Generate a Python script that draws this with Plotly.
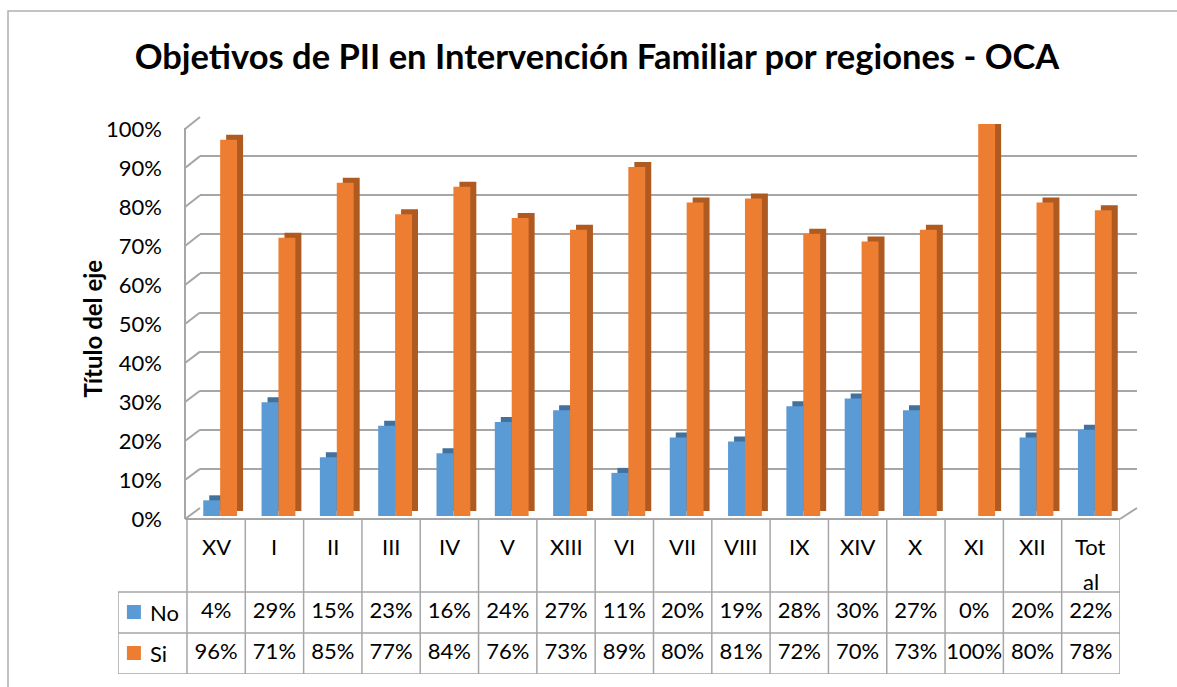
import plotly.graph_objects as go

W, H = 1177, 687

regions = ["XV", "I", "II", "III", "IV", "V", "XIII", "VI", "VII", "VIII",
           "IX", "XIV", "X", "XI", "XII", "Total"]
no_pct = [4, 29, 15, 23, 16, 24, 27, 11, 20, 19, 28, 30, 27, 0, 20, 22]
si_pct = [96, 71, 85, 77, 84, 76, 73, 89, 80, 81, 72, 70, 73, 100, 80, 78]
series_names = ["No", "Si"]
y_ticks = [0, 10, 20, 30, 40, 50, 60, 70, 80, 90, 100]

title_text = "Objetivos de PII en Intervención Familiar por regiones - OCA"
y_title = "Título del eje"

BLUE, ORANGE = "#5b9bd5", "#ed7d31"
BLUE_D, ORANGE_D = "#41719c", "#ae5a21"
GRID = "#a6a6a6"
FONT = "Lato"


def px(x):
    return x / W


def py(y):
    return 1 - y / H


idx = list(range(len(regions)))
no_v = [v / 100 for v in no_pct]
si_v = [v / 100 for v in si_pct]

fig = go.Figure()

# back-wall grid subplot (x / y)
fig.add_trace(go.Scatter(x=[], y=[], xaxis="x", yaxis="y", showlegend=False))

# bars subplot (x2 / y2)
bw = 0.29
dx = 6 / 58.31
dy = 5 / 392
fig.add_trace(go.Bar(x=idx, y=no_v, base=dy, width=bw, offset=-bw + dx,
                     marker=dict(color=BLUE_D, line=dict(width=0)),
                     xaxis="x2", yaxis="y2", showlegend=False, hoverinfo="skip"))
fig.add_trace(go.Bar(x=idx, y=si_v, base=dy, width=bw, offset=dx,
                     marker=dict(color=ORANGE_D, line=dict(width=0)),
                     xaxis="x2", yaxis="y2", showlegend=False, hoverinfo="skip"))
fig.add_trace(go.Bar(x=idx, y=no_v, width=bw, offset=-bw, name=series_names[0],
                     marker=dict(color=BLUE, line=dict(width=0)),
                     xaxis="x2", yaxis="y2", showlegend=False))
fig.add_trace(go.Bar(x=idx, y=si_v, width=bw, offset=0, name=series_names[1],
                     marker=dict(color=ORANGE, line=dict(width=0)),
                     xaxis="x2", yaxis="y2", showlegend=False))

# tick-label axis (x2 / y3)
fig.add_trace(go.Scatter(x=[], y=[], xaxis="x2", yaxis="y3", showlegend=False))

# data table subplot (x4 / y4)
ROW_CAT, ROW_NO, ROW_SI = 546, 612, 653
TXT = dict(family=FONT, size=22, color="black")
fig.add_trace(go.Scatter(x=[-1.41, -1.41], y=[ROW_NO, ROW_SI], mode="markers",
                         marker=dict(symbol="square", size=14, color=[BLUE, ORANGE]),
                         xaxis="x4", yaxis="y4", showlegend=False, hoverinfo="skip"))
fig.add_trace(go.Scatter(x=idx, y=[ROW_NO] * len(idx), mode="text",
                         text=[f"{v}%" for v in no_pct], textfont=TXT,
                         xaxis="x4", yaxis="y4", showlegend=False, hoverinfo="skip"))
fig.add_trace(go.Scatter(x=idx, y=[ROW_SI] * len(idx), mode="text",
                         text=[f"{v}%" for v in si_pct], textfont=TXT,
                         xaxis="x4", yaxis="y4", showlegend=False, hoverinfo="skip"))

annotations = []
for i, lab in enumerate(regions):
    parts = [lab] if len(lab) <= 4 else [lab[:3], lab[3:]]
    for k, p in enumerate(parts):
        annotations.append(dict(x=i, y=ROW_CAT + k * 35, xref="x4", yref="y4",
                                text=p, showarrow=False, font=TXT))
for name, yy in zip(series_names, [ROW_NO, ROW_SI]):
    annotations.append(dict(x=-1.17, y=yy, xref="x4", yref="y4", text=name,
                            xanchor="left", showarrow=False, font=TXT))
annotations.append(dict(x=px(75), y=py(329), xref="paper", yref="paper",
                        text=f"<b>{y_title}</b>", textangle=-90, showarrow=False,
                        font=dict(family=FONT, size=24, color="black")))

shapes = []
line_style = dict(color=GRID, width=1.5)
# outer chart border
shapes.append(dict(type="rect", xref="paper", yref="paper", x0=px(8), x1=1.02,
                   y0=-0.02, y1=py(11), line=dict(color="#b0b0b0", width=1.5)))
# left wall
for t in y_ticks:
    shapes.append(dict(type="line", xref="paper", yref="paper",
                       x0=px(185), y0=py(519 - t * 3.9), x1=px(200), y1=py(508 - t * 3.91),
                       line=dict(color=GRID, width=2)))
shapes.append(dict(type="line", xref="paper", yref="paper", x0=px(185), y0=py(128),
                   x1=px(185), y1=py(519), line=dict(color=GRID, width=2)))
# floor front edge and right diagonal
shapes.append(dict(type="line", xref="paper", yref="paper", x0=px(185), y0=py(519),
                   x1=px(1120), y1=py(519), line=dict(color=GRID, width=2)))
shapes.append(dict(type="line", xref="paper", yref="paper", x0=px(1120), y0=py(519),
                   x1=px(1137), y1=py(508), line=dict(color=GRID, width=2)))
# table lines
n = len(regions)
for i in range(n + 1):
    shapes.append(dict(type="line", xref="x4", yref="y4", x0=i - 0.5, x1=i - 0.5,
                       y0=519, y1=674, line=line_style))
shapes.append(dict(type="line", xref="x4", yref="y4", x0=-1.683, x1=-1.683,
                   y0=592, y1=674, line=line_style))
for yy in [592, 633, 674]:
    shapes.append(dict(type="line", xref="x4", yref="y4", x0=-1.683, x1=n - 0.5,
                       y0=yy, y1=yy, line=line_style))

common = dict(automargin=False, fixedrange=True, zeroline=False)
fig.update_layout(
    template="none",
    width=W, height=H, autosize=False,
    margin=dict(l=0, r=0, t=0, b=0, pad=0, autoexpand=False),
    paper_bgcolor="white", plot_bgcolor="rgba(0,0,0,0)",
    barmode="overlay", showlegend=False,
    title=dict(text=f"<b>{title_text}</b>", x=px(597), y=py(57),
               xanchor="center", yanchor="middle", xref="paper", yref="paper",
               automargin=False,
               font=dict(family=FONT, size=34.5, color="black")),
    xaxis=dict(domain=[px(200), px(1137)], range=[0, 1],
               showgrid=False, showticklabels=False, showline=False, ticks="",
               anchor="y", **common),
    yaxis=dict(domain=[py(508), py(117)], range=[0, 1], dtick=0.1, tick0=0,
               showgrid=True, gridcolor=GRID, gridwidth=2, ticks="",
               showticklabels=False, showline=False, anchor="x", **common),
    xaxis2=dict(domain=[px(191), px(1124)], range=[-0.5, n - 0.5], ticks="",
                showgrid=False, showticklabels=False, showline=False,
                anchor="y2", **common),
    yaxis2=dict(domain=[py(516), py(124)], range=[0, 1], showgrid=False, ticks="",
                showticklabels=False, showline=False, anchor="x2", **common),
    yaxis3=dict(domain=[py(519), py(129)], range=[0, 1],
                tickvals=[t / 100 for t in y_ticks],
                ticktext=[f"{t}%" for t in y_ticks],
                showgrid=False, showline=False, ticks="",
                anchor="free", position=px(162),
                tickfont=TXT, **common),
    xaxis4=dict(domain=[px(118), px(1120)], range=[-1.683, n - 0.5],
                visible=False, anchor="y4", **common),
    yaxis4=dict(domain=[py(674), py(519)], range=[674, 519],
                visible=False, anchor="x4", **common),
    annotations=annotations,
    shapes=shapes,
)

fig.write_html(
    "out.html",
    config={"displayModeBar": False, "responsive": False},
    post_script="document.documentElement.style.overflow='hidden';"
                "document.body.style.margin='0';document.body.style.overflow='hidden';",
)
